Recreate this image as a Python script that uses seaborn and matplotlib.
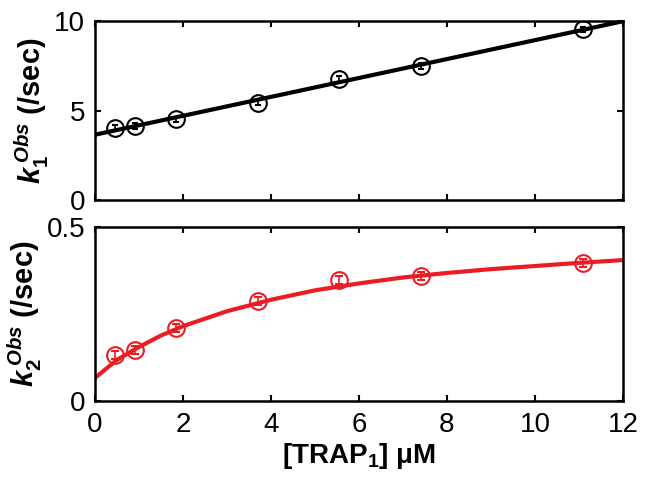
import numpy as np
import seaborn as sns
import matplotlib.pyplot as plt

# measured points (shared x)
trap_conc = [0.46, 0.92, 1.85, 3.7, 5.55, 7.4, 11.1]
k1_obs = [4.02, 4.13, 4.52, 5.45, 6.76, 7.49, 9.55]
k1_err = [0.15, 0.15, 0.15, 0.15, 0.15, 0.15, 0.15]
k2_obs = [0.132, 0.147, 0.21, 0.287, 0.348, 0.36, 0.397]
k2_err = [0.012, 0.012, 0.012, 0.012, 0.012, 0.012, 0.012]

# fit curves
fit1_x = [0, 12]
fit1_y = [3.65, 10.0]
fit2_x = [0, 0.5, 1, 1.5, 2, 3, 4, 5, 6, 7, 8, 9, 10, 11, 12]
fit2_y = [0.066, 0.118, 0.155, 0.188, 0.215, 0.258, 0.291, 0.318, 0.338, 0.355, 0.368, 0.379, 0.388, 0.397, 0.405]

sns.set_style('ticks')
plt.rcParams['font.family'] = ['Liberation Sans', 'DejaVu Sans']
plt.rcParams['mathtext.fontset'] = 'custom'
plt.rcParams['mathtext.it'] = 'Liberation Sans:bold:italic'
plt.rcParams['mathtext.rm'] = 'Liberation Sans:bold'
plt.rcParams['mathtext.bf'] = 'Liberation Sans:bold'
for key in ['text.color', 'axes.labelcolor', 'xtick.color', 'ytick.color', 'axes.edgecolor']:
    plt.rcParams[key] = 'black'

red = '#ec1c24'

fig = plt.figure(figsize=(6.45, 4.82), dpi=100)
ax1 = fig.add_axes([0.147, 0.585, 0.819, 0.371])
ax2 = fig.add_axes([0.147, 0.168, 0.819, 0.361])

sns.lineplot(x=fit1_x, y=fit1_y, ax=ax1, color='black', linewidth=3)
ax1.errorbar(trap_conc, k1_obs, yerr=k1_err, fmt='o', ms=12, mfc='none',
             mec='black', mew=1.5, ecolor='black', elinewidth=1.2, capsize=2)

sns.lineplot(x=fit2_x, y=fit2_y, ax=ax2, color=red, linewidth=3)
ax2.errorbar(trap_conc, k2_obs, yerr=k2_err, fmt='o', ms=12, mfc='none',
             mec=red, mew=1.5, ecolor=red, elinewidth=1.2, capsize=3)

for ax in (ax1, ax2):
    ax.set_xlim(0, 12)
    ax.set_xticks([0, 2, 4, 6, 8, 10, 12])
    ax.tick_params(direction='in', top=True, right=True, length=4, width=1.5,
                   labelsize=20)
    ax.tick_params(axis='x', pad=8)
    ax.tick_params(axis='y', pad=7)
    for s in ax.spines.values():
        s.set_linewidth(1.8)
        s.set_visible(True)

ax1.set_ylim(0, 10)
ax1.set_yticks([0, 5, 10])
ax1.tick_params(labelbottom=False)
ax1.set_ylabel(r'$k_1^{\,Obs}$ (/sec)', fontsize=21, fontweight='bold', labelpad=2)

ax2.set_ylim(0, 0.5)
ax2.set_yticks([0, 0.5])
ax2.set_yticklabels(['0', '0.5'])
ax2.set_ylabel(r'$k_2^{\,Obs}$ (/sec)', fontsize=21, fontweight='bold', labelpad=2)
ax2.set_xlabel(r'[TRAP$_1$] μM', fontsize=20, fontweight='bold', labelpad=2)

plt.savefig('out.png', dpi=100)
